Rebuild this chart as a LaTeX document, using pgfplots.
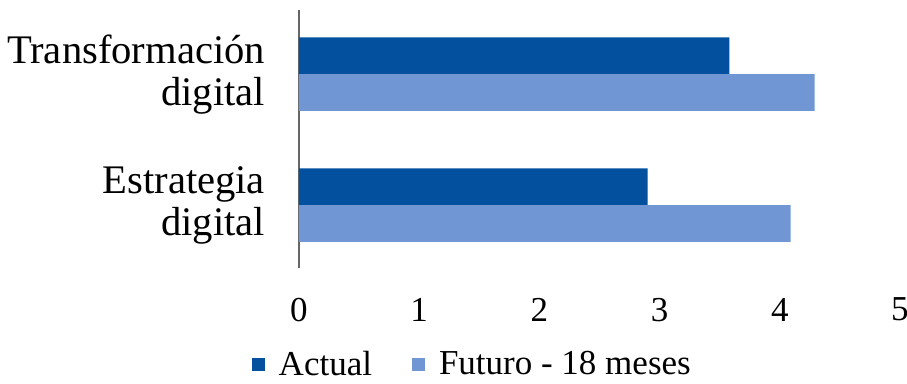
\documentclass[border=0pt]{standalone}
\usepackage{pgfplots}
\pgfplotsset{compat=1.18}
\usepackage{fontspec}
\setmainfont{Liberation Serif}
\definecolor{cA}{HTML}{02509E}
\definecolor{cF}{HTML}{7097D4}
\begin{document}
\begin{tikzpicture}[x=1pt,y=1pt]
\useasboundingbox (0,0) rectangle (453.5,192);
\begin{axis}[
  at={(149.5pt,58pt)}, anchor=south west,
  scale only axis, width=300.5pt, height=129pt,
  xmin=0, xmax=5, ymin=-0.48, ymax=1.49,
  xtick={0,1,2,3,4,5},
  ytick={0,1},
  yticklabels={Estrategia\\digital, Transformación\\digital},
  yticklabel style={align=right, font=\fontsize{20.3}{21}\selectfont, xshift=-13.5pt},
  xticklabel style={font=\fontsize{17.5}{20}\selectfont, yshift=-11.5pt},
  /pgf/number format/assume math mode=true,
  major tick length=0pt,
  axis lines=left,
  axis line style={-},
  x axis line style={draw=none},
  y axis line style={draw=gray!80!black, line width=0.8pt},
  xbar, bar width=0.28,
  legend style={at={(0.29,-0.375)}, anchor=center, draw=none, legend columns=2,
    font=\fontsize{17.5}{20}\selectfont,
    /tikz/every odd column/.append style={column sep=5pt},
    /tikz/every even column/.append style={column sep=18pt}},
  legend image code/.code={\fill[#1] (0pt,-3.2pt) rectangle (6.5pt,3.3pt);},
]
\addplot[draw=none, fill=cA, bar shift=0.14] coordinates {(2.90,0) (3.58,1)};
\addplot[draw=none, fill=cF, bar shift=-0.14] coordinates {(4.09,0) (4.29,1)};
\legend{Actual, Futuro - 18 meses}
\end{axis}
\end{tikzpicture}
\end{document}
